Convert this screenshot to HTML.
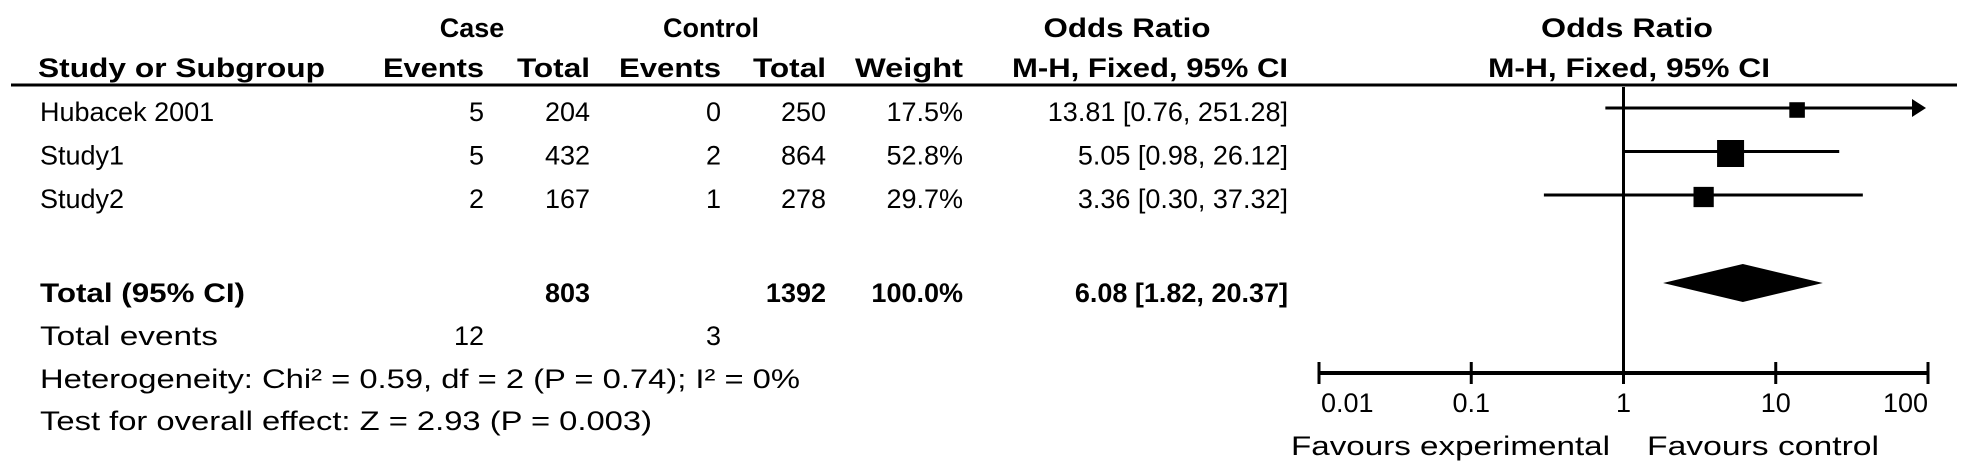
<!DOCTYPE html>
<html><head><meta charset="utf-8"><style>
html,body{margin:0;padding:0;background:#fff;}
svg{display:block;}
text{font-family:"Liberation Sans",Arial,sans-serif;fill:#000;}
.b{font-weight:bold;}
</style></head><body>
<svg id="fp" width="1969" height="475" viewBox="0 0 1969 475">
<g font-size="27">
<text class="b" x="472" y="37" text-anchor="middle">Case</text>
<text class="b" x="711" y="37" text-anchor="middle">Control</text>
<text class="b" x="1127" y="37" text-anchor="middle" textLength="167" lengthAdjust="spacingAndGlyphs">Odds Ratio</text>
<text class="b" x="1627" y="37" text-anchor="middle" textLength="172" lengthAdjust="spacingAndGlyphs">Odds Ratio</text>
<text class="b" x="38" y="77" textLength="287" lengthAdjust="spacingAndGlyphs">Study or Subgroup</text>
<text class="b" x="484" y="77" text-anchor="end" textLength="101" lengthAdjust="spacingAndGlyphs">Events</text>
<text class="b" x="590" y="77" text-anchor="end" textLength="73" lengthAdjust="spacingAndGlyphs">Total</text>
<text class="b" x="721" y="77" text-anchor="end" textLength="102" lengthAdjust="spacingAndGlyphs">Events</text>
<text class="b" x="826" y="77" text-anchor="end" textLength="73" lengthAdjust="spacingAndGlyphs">Total</text>
<text class="b" x="963" y="77" text-anchor="end" textLength="108" lengthAdjust="spacingAndGlyphs">Weight</text>
<text class="b" x="1288" y="77" text-anchor="end" textLength="276" lengthAdjust="spacingAndGlyphs">M-H, Fixed, 95% CI</text>
<text class="b" x="1629" y="77" text-anchor="middle" textLength="282" lengthAdjust="spacingAndGlyphs">M-H, Fixed, 95% CI</text>
</g>
<line x1="11" y1="85" x2="1957" y2="85" stroke="#000" stroke-width="3"/>
<g id="rows" font-size="27"></g>
<g id="plot"></g>
<g font-size="27">
<text x="40" y="345" textLength="178" lengthAdjust="spacingAndGlyphs">Total events</text>
<text x="484" y="345" text-anchor="end">12</text>
<text x="721" y="345" text-anchor="end">3</text>
<text x="40" y="388" textLength="760" lengthAdjust="spacingAndGlyphs">Heterogeneity: Chi² = 0.59, df = 2 (P = 0.74); I² = 0%</text>
<text x="40" y="430" textLength="612" lengthAdjust="spacingAndGlyphs">Test for overall effect: Z = 2.93 (P = 0.003)</text>
<text x="1610" y="455" text-anchor="end" textLength="319" lengthAdjust="spacingAndGlyphs">Favours experimental</text>
<text x="1647" y="455" textLength="232" lengthAdjust="spacingAndGlyphs">Favours control</text>
</g>
</svg>
<script>
const studies = ["Hubacek  2001", "Study1", "Study2"];
const caseEvents = [5, 5, 2];
const caseTotals = [204, 432, 167];
const ctrlEvents = [0, 2, 1];
const ctrlTotals = [250, 864, 278];
const weights = [17.5, 52.8, 29.7];
const orValues = [13.81, 5.05, 3.36];
const ciLow = [0.76, 0.98, 0.30];
const ciHigh = [251.28, 26.12, 37.32];
const totalOR = [6.08, 1.82, 20.37];
const totalCounts = [803, 1392, 100.0];
const tickValues = [0.01, 0.1, 1, 10, 100];
const tickLabels = ["0.01", "0.1", "1", "10", "100"];

const NS = "http://www.w3.org/2000/svg";
const xMin = 0.01, xMax = 100, pxMin = 1319, pxMax = 1928;
function xScale(v){ return pxMin + (Math.log10(v) - Math.log10(xMin)) / (Math.log10(xMax) - Math.log10(xMin)) * (pxMax - pxMin); }
function rowY(i){ return 121 + i * 43.5; }
function mk(tag, attrs, parent){ const e = document.createElementNS(NS, tag); for (const k in attrs) e.setAttribute(k, attrs[k]); parent.appendChild(e); return e; }
function txt(parent, x, y, s, anchor, cls){ const t = mk("text", {x: x, y: y, "text-anchor": anchor || "start"}, parent); if (cls) t.setAttribute("class", cls); t.textContent = s; return t; }

const rows = document.getElementById("rows");
const plot = document.getElementById("plot");
const maxW = Math.max(...weights);

studies.forEach((s, i) => {
  const y = rowY(i);
  let t = txt(rows, 40, y, s);
  
  
  t = txt(rows, 484, y, String(caseEvents[i]), "end");
  
  
  t = txt(rows, 590, y, String(caseTotals[i]), "end");
  
  
  t = txt(rows, 721, y, String(ctrlEvents[i]), "end");
  
  
  t = txt(rows, 826, y, String(ctrlTotals[i]), "end");
  
  
  t = txt(rows, 963, y, weights[i].toFixed(1) + "%", "end");
  
  
  t = txt(rows, 1288, y, orValues[i].toFixed(2) + " [" + ciLow[i].toFixed(2) + ", " + ciHigh[i].toFixed(2) + "]", "end");
  
  

  const ly = y - 13;
  const x1 = xScale(Math.max(ciLow[i], xMin));
  const clipped = ciHigh[i] > xMax;
  const x2 = clipped ? xScale(xMax) - 2 : xScale(ciHigh[i]);
  const l = mk("line", {x1: x1, y1: ly, x2: clipped ? x2 - 10 : x2, y2: ly, stroke: "#000", "stroke-width": 3}, plot);
  
  
  if (clipped) {
    const a = mk("polygon", {points: (x2-14)+","+(ly-9)+" "+x2+","+ly+" "+(x2-14)+","+(ly+9)}, plot);
    
    
  }
  const sz = 27 * Math.sqrt(weights[i] / maxW);
  const sq = mk("rect", {x: xScale(orValues[i]) - sz/2, y: ly - sz/2 + 2, width: sz, height: sz, fill: "#000"}, plot);
  
  
});

let t = txt(rows, 40, 302, "Total (95% CI)", "start", "b");
t.setAttribute("textLength", "205"); t.setAttribute("lengthAdjust", "spacingAndGlyphs");


t = txt(rows, 590, 302, String(totalCounts[0]), "end", "b");


t = txt(rows, 826, 302, String(totalCounts[1]), "end", "b");


t = txt(rows, 963, 302, totalCounts[2].toFixed(1) + "%", "end", "b");


t = txt(rows, 1288, 302, totalOR[0].toFixed(2) + " [" + totalOR[1].toFixed(2) + ", " + totalOR[2].toFixed(2) + "]", "end", "b");



const dy = 283;
const dm = mk("polygon", {points: xScale(totalOR[1])+","+dy+" "+xScale(totalOR[0])+","+(dy-19)+" "+xScale(totalOR[2])+","+dy+" "+xScale(totalOR[0])+","+(dy+19), fill: "#000"}, plot);



const axY = 373;
const vl = mk("line", {x1: xScale(1), y1: 87, x2: xScale(1), y2: axY, stroke: "#000", "stroke-width": 3}, plot);


const ax = mk("line", {x1: xScale(xMin), y1: axY, x2: xScale(xMax), y2: axY, stroke: "#000", "stroke-width": 4}, plot);


tickValues.forEach((v, i) => {
  const x = xScale(v);
  const tk = mk("line", {x1: x, y1: axY - 11, x2: x, y2: axY + 11, stroke: "#000", "stroke-width": 3}, plot);
  
  
  const anchor = i === 0 ? "start" : (i === tickValues.length - 1 ? "end" : "middle");
  const lb = mk("text", {x: i === 0 ? x + 2 : x, y: 412, "text-anchor": anchor, "font-size": 27}, plot);
  lb.textContent = tickLabels[i];
  
  
});
</script>
</body></html>
